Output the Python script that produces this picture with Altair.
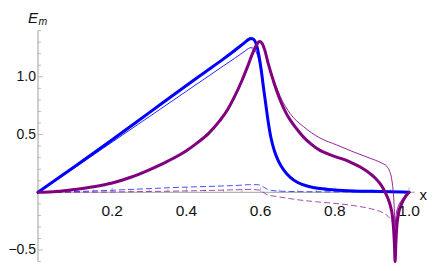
import altair as alt
import pandas as pd

# ---------------- data ----------------
blue_thick_x = [0, 0.1, 0.2, 0.3, 0.4, 0.45, 0.5, 0.53, 0.55, 0.56, 0.567, 0.574, 0.581, 0.588,
                0.595, 0.602, 0.608, 0.614, 0.62, 0.628, 0.637, 0.648, 0.663, 0.68, 0.70, 0.73,
                0.76, 0.80, 0.85, 0.90, 0.95, 1.0]
blue_thick_y = [0, 0.225, 0.455, 0.69, 0.925, 1.04, 1.155, 1.228, 1.278, 1.305, 1.322, 1.332,
                1.325, 1.285, 1.19, 1.05, 0.9, 0.76, 0.62, 0.47, 0.36, 0.27, 0.19, 0.13, 0.085,
                0.05, 0.032, 0.02, 0.012, 0.008, 0.005, 0.0]

blue_thin_x = [0, 0.1, 0.2, 0.3, 0.4, 0.45, 0.5, 0.53, 0.55, 0.56, 0.567, 0.574, 0.581, 0.588,
               0.595, 0.602, 0.608, 0.614, 0.62, 0.628, 0.637, 0.648, 0.663, 0.68, 0.70, 0.73,
               0.76, 0.80, 0.85, 0.90, 0.95, 1.0]
blue_thin_y = [0, 0.215, 0.435, 0.655, 0.875, 0.985, 1.095, 1.16, 1.205, 1.228, 1.245, 1.252,
               1.245, 1.215, 1.145, 1.03, 0.89, 0.76, 0.62, 0.47, 0.36, 0.27, 0.19, 0.13, 0.085,
               0.05, 0.032, 0.02, 0.012, 0.008, 0.005, 0.0]

purple_thick_x = [0, 0.05, 0.1, 0.15, 0.2, 0.25, 0.3, 0.35, 0.4, 0.43, 0.46, 0.49, 0.51, 0.53,
                  0.55, 0.565, 0.578, 0.588, 0.597, 0.604, 0.611, 0.62, 0.63, 0.642, 0.655,
                  0.668, 0.68, 0.697, 0.715, 0.737, 0.76, 0.783, 0.805, 0.828, 0.85, 0.873,
                  0.895, 0.91, 0.922, 0.93, 0.937, 0.944, 0.95, 0.955, 0.958, 0.9605, 0.9625,
                  0.9645, 0.967, 0.972, 0.98, 0.99, 1.0]
purple_thick_y = [0, 0.007, 0.025, 0.048, 0.08, 0.13, 0.195, 0.27, 0.36, 0.43, 0.51, 0.62, 0.71,
                  0.83, 0.97, 1.09, 1.2, 1.27, 1.305, 1.29, 1.233, 1.12, 1.01, 0.89, 0.78,
                  0.69, 0.625, 0.55, 0.48, 0.415, 0.363, 0.33, 0.305, 0.28, 0.248, 0.21,
                  0.162, 0.12, 0.075, 0.035, -0.01, -0.06, -0.12, -0.2, -0.3, -0.44, -0.6,
                  -0.44, -0.3, -0.18, -0.1, -0.04, 0.0]

purple_thin_x = [0, 0.05, 0.1, 0.15, 0.2, 0.25, 0.3, 0.35, 0.4, 0.43, 0.46, 0.49, 0.51, 0.53,
                 0.55, 0.565, 0.578, 0.588, 0.597, 0.604, 0.611, 0.62, 0.63, 0.642, 0.653,
                 0.68, 0.715, 0.76, 0.805, 0.85, 0.895, 0.925, 0.94, 0.948, 0.953, 0.956,
                 0.958, 0.96, 0.9625, 0.965, 0.97, 0.98, 0.99, 1.0]
purple_thin_y = [0, 0.007, 0.025, 0.048, 0.08, 0.13, 0.195, 0.27, 0.36, 0.43, 0.51, 0.62, 0.71,
                 0.83, 0.97, 1.09, 1.2, 1.27, 1.305, 1.29, 1.233, 1.125, 1.02, 0.92, 0.83,
                 0.68, 0.57, 0.47, 0.41, 0.35, 0.295, 0.255, 0.225, 0.18, 0.12, 0.05,
                 -0.02, -0.12, -0.3, -0.2, -0.13, -0.07, -0.025, 0.0]

blue_dash_x = [0, 0.05, 0.1, 0.15, 0.2, 0.25, 0.3, 0.35, 0.4, 0.45, 0.5, 0.54, 0.57, 0.59, 0.6,
               0.608, 0.617, 0.63, 0.65, 0.68, 0.72, 0.8, 0.9, 0.95, 1.0]
blue_dash_y = [0, 0.002, 0.006, 0.012, 0.018, 0.025, 0.032, 0.039, 0.045, 0.05, 0.055, 0.06,
               0.066, 0.066, 0.06, 0.045, 0.028, 0.016, 0.01, 0.007, 0.005, 0.004, 0.003,
               0.002, 0.0]

purple_dash_x = [0, 0.1, 0.2, 0.3, 0.4, 0.5, 0.55, 0.575, 0.595, 0.605, 0.617, 0.64, 0.67,
                 0.706, 0.75, 0.796, 0.85, 0.9, 0.925, 0.944, 0.952, 0.957, 0.96, 0.963,
                 0.967, 0.975, 0.985, 1.0]
purple_dash_y = [0, 0.001, 0.003, 0.007, 0.012, 0.019, 0.023, 0.025, 0.02, 0.005, -0.02,
                 -0.035, -0.05, -0.067, -0.082, -0.095, -0.115, -0.145, -0.17, -0.21, -0.24,
                 -0.27, -0.29, -0.26, -0.19, -0.11, -0.05, 0.0]

x_major = [0.2, 0.4, 0.6, 0.8, 1.0]
x_labels = ["0.2", "0.4", "0.6", "0.8", "1.0"]
x_minor = [0.05, 0.1, 0.15, 0.25, 0.3, 0.35, 0.45, 0.5, 0.55, 0.65, 0.7, 0.75, 0.85, 0.9, 0.95]
y_major = [-0.5, 0.5, 1.0]
y_labels = ["\u22120.5", "0.5", "1.0"]
y_minor = [-0.6, -0.4, -0.3, -0.2, -0.1, 0.1, 0.2, 0.3, 0.4, 0.6, 0.7, 0.8, 0.9, 1.1, 1.2, 1.3, 1.4]

X_DOMAIN = [0, 1.015]
Y_DOMAIN = [-0.6, 1.4]

# ---------------- chart ----------------
W = 376.6
H = 231
xs = alt.Scale(domain=X_DOMAIN, nice=False, zero=False)
ys = alt.Scale(domain=Y_DOMAIN, nice=False, zero=False)
AX = "#a0a0a0"
FONT = "Liberation Sans"
TXT = "#111111"


def X(f):
    return alt.X(f, type="quantitative", scale=xs, axis=None)


def Y(f):
    return alt.Y(f, type="quantitative", scale=ys, axis=None)


def series(xv, yv):
    return pd.DataFrame({"x": xv, "y": yv, "i": list(range(len(xv)))})


def line(df, color, width, dash=None, opacity=1.0):
    kw = dict(color=color, strokeWidth=width, interpolate="monotone", opacity=opacity,
              strokeCap="round", strokeJoin="round")
    if dash:
        kw["strokeDash"] = dash
        kw["strokeCap"] = "butt"
    return alt.Chart(df).mark_line(**kw).encode(x=X("x"), y=Y("y"), order="i:Q")


axis_x = alt.Chart(pd.DataFrame({"a": [X_DOMAIN[0]], "b": [X_DOMAIN[1]], "z": [0.0]})).mark_rule(
    color=AX, strokeWidth=1).encode(x=X("a"), x2="b:Q", y=Y("z"))
axis_y = alt.Chart(pd.DataFrame({"a": [Y_DOMAIN[0]], "b": [Y_DOMAIN[1]], "z": [0.0]})).mark_rule(
    color=AX, strokeWidth=1).encode(y=Y("a"), y2="b:Q", x=X("z"))


def ticks_df(vals):
    return pd.DataFrame({"v": vals, "z": [0.0] * len(vals)})


xt_major = alt.Chart(ticks_df(x_major)).mark_tick(
    orient="vertical", size=5, thickness=1, color=AX, yOffset=-2.5).encode(x=X("v"), y=Y("z"))
xt_minor = alt.Chart(ticks_df(x_minor)).mark_tick(
    orient="vertical", size=3, thickness=1, color=AX, yOffset=-1.5).encode(x=X("v"), y=Y("z"))
yt_major = alt.Chart(ticks_df(y_major)).mark_tick(
    orient="horizontal", size=5, thickness=1, color=AX, xOffset=2.5).encode(y=Y("v"), x=X("z"))
yt_minor = alt.Chart(ticks_df(y_minor)).mark_tick(
    orient="horizontal", size=3, thickness=1, color=AX, xOffset=1.5).encode(y=Y("v"), x=X("z"))

xl_df = ticks_df(x_major)
xl_df["t"] = x_labels
yl_df = ticks_df(y_major)
yl_df["t"] = y_labels

xl = alt.Chart(xl_df).mark_text(
    font=FONT, fontSize=15.5, color=TXT, align="center", baseline="middle", dy=18.5).encode(
    x=X("v"), y=Y("z"), text="t:N")
yl = alt.Chart(yl_df).mark_text(
    font=FONT, fontSize=14, color=TXT, align="right", baseline="middle", dx=-2).encode(
    y=Y("v"), x=X("z"), text="t:N")

x_title = alt.Chart(pd.DataFrame({"t": ["x"], "a": [X_DOMAIN[1]], "z": [0.0]})).mark_text(
    font=FONT, fontSize=15, color=TXT, align="left", baseline="alphabetic", dx=5, dy=8).encode(
    x=X("a"), y=Y("z"), text="t:N")
y_title_E = alt.Chart(pd.DataFrame({"t": ["E"], "a": [0.0], "b": [Y_DOMAIN[1]]})).mark_text(
    font=FONT, fontSize=15, fontStyle="italic", color=TXT, align="left",
    baseline="alphabetic", dx=-10, dy=-8).encode(x=X("a"), y=Y("b"), text="t:N")
y_title_m = alt.Chart(pd.DataFrame({"t": ["m"], "a": [0.0], "b": [Y_DOMAIN[1]]})).mark_text(
    font=FONT, fontSize=10.5, fontStyle="italic", color=TXT, align="left",
    baseline="alphabetic", dx=0.5, dy=-6).encode(x=X("a"), y=Y("b"), text="t:N")

BLUE = "#0000ff"
PURPLE = "#800080"

chart = alt.layer(
    axis_x, axis_y, xt_major, xt_minor, yt_major, yt_minor,
    line(series(blue_dash_x, blue_dash_y), BLUE, 1, dash=[6, 3], opacity=0.7),
    line(series(purple_dash_x, purple_dash_y), PURPLE, 1, dash=[6, 3], opacity=0.7),
    line(series(blue_thin_x, blue_thin_y), BLUE, 1, opacity=0.85),
    line(series(blue_thick_x, blue_thick_y), BLUE, 3),
    line(series(purple_thin_x, purple_thin_y), PURPLE, 1, opacity=0.85),
    line(series(purple_thick_x, purple_thick_y), PURPLE, 3),
    xl, yl, x_title, y_title_E, y_title_m,
).properties(
    width=W, height=H,
    autosize=alt.AutoSizeParams(type="none"),
    padding={"left": 30, "top": 22.6, "right": 13.4, "bottom": 1},
).configure_view(stroke=None)

chart.save("out.html", embed_options={"renderer": "svg", "actions": False})
